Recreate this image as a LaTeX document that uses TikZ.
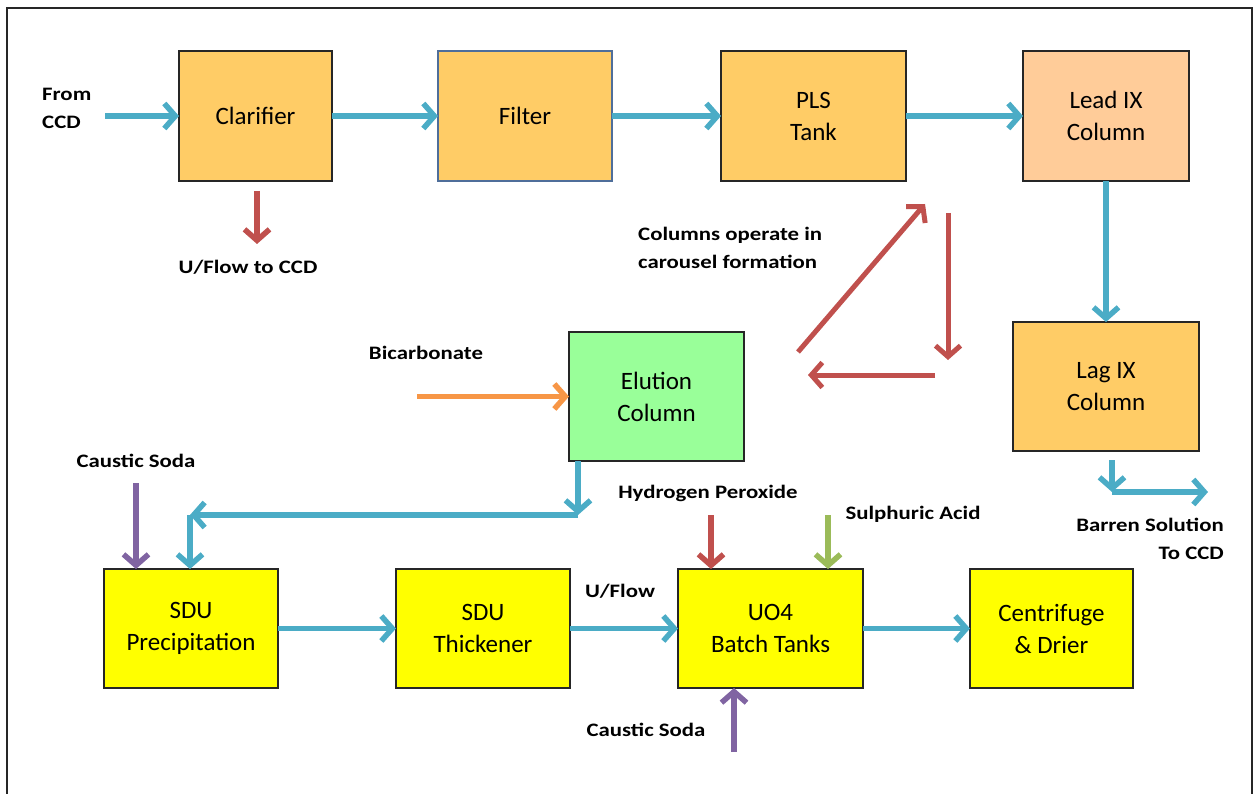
\documentclass[tikz,border=0pt]{standalone}
\usepackage{fontspec}
\setmainfont{Carlito}
\newfontfamily\lblfont[FakeStretch=1.2]{Carlito}
\usepackage{tikz}
\usetikzlibrary{positioning, arrows.meta}
\definecolor{frameGray}{HTML}{262626}
\definecolor{boxLine}{HTML}{262626}
\definecolor{filtLine}{HTML}{4F6E9A}
\definecolor{oreTan}{HTML}{FFCC66}
\definecolor{leadPeach}{HTML}{FFCC99}
\definecolor{eluGreen}{HTML}{99FF99}
\definecolor{sduYellow}{HTML}{FFFF00}
\definecolor{flowBlue}{HTML}{4BACC6}
\definecolor{wasteRed}{HTML}{C0504D}
\definecolor{bicOrange}{HTML}{F79646}
\definecolor{sodaPurple}{HTML}{8064A2}
\definecolor{acidGreen}{HTML}{9BBB59}
\begin{document}
\begin{tikzpicture}[x=1pt,y=-1pt,unit/.style={draw=boxLine, line width=1.5pt, inner sep=0pt, outer sep=0pt, align=center, font=\fontsize{25}{32}\selectfont},lbl/.style={font=\lblfont\bfseries\fontsize{19}{28}\selectfont, inner sep=0pt},pipe/.style={line width=5.5pt, -{Straight Barb[length=11pt,width=25pt]}}]
\useasboundingbox (0,0) rectangle (1255,794);
\draw[line width=2.5pt, color=frameGray] (7,794) -- (7,8) -- (1252,8) -- (1252,794);
\node[unit, fill=oreTan, minimum width=153pt, minimum height=130pt] (clar) at (255.5,116) {Clarifier};
\node[unit, fill=oreTan, draw=filtLine, line width=1.2pt, minimum width=174pt, minimum height=130pt, right=106pt of clar] (filt) {Filter};
\node[unit, fill=oreTan, minimum width=185pt, minimum height=130pt, right=109pt of filt] (pls) {PLS\\Tank};
\node[unit, fill=leadPeach, minimum width=166pt, minimum height=130pt, right=117pt of pls] (lead) {Lead IX\\Column};
\node[unit, fill=oreTan, minimum width=186pt, minimum height=129pt] (lag) at (1106,386.5) {Lag IX\\Column};
\node[unit, fill=eluGreen, minimum width=175pt, minimum height=129pt] (elu) at (656.5,396.5) {Elution\\Column};
\node[unit, fill=sduYellow, minimum width=174pt, minimum height=119pt] (prec) at (191,628.5) {SDU\\Precipitation};
\node[unit, fill=sduYellow, minimum width=174pt, minimum height=119pt, right=118pt of prec] (thick) {SDU\\Thickener};
\node[unit, fill=sduYellow, minimum width=185pt, minimum height=119pt, right=108pt of thick] (uo) {UO4\\Batch Tanks};
\node[unit, fill=sduYellow, minimum width=163pt, minimum height=119pt, right=107pt of uo] (cent) {Centrifuge\\\& Drier};
\node[lbl, align=left, anchor=west] (ccdIn) at (42,108) {From\\CCD};
\node[lbl] (ufCcd) at (248,267) {U/Flow to CCD};
\node[lbl, align=left, anchor=west] (carousel) at (638,248) {Columns operate in\\carousel formation};
\node[lbl] (bicLbl) at (426,353) {Bicarbonate};
\node[lbl] (soda1Lbl) at (136,461) {Caustic Soda};
\node[lbl] (hpLbl) at (708,493) {Hydrogen Peroxide};
\node[lbl] (acidLbl) at (913,514) {Sulphuric Acid};
\node[lbl] (ufLbl) at (620,591) {U/Flow};
\node[lbl] (soda2Lbl) at (646,730) {Caustic Soda};
\node[lbl, align=right, anchor=east] (barLbl) at (1224,539) {Barren Solution\\To CCD};
\coordinate (ccd) at (105,116); \coordinate (uf) at (257,244);
\coordinate (b1) at (1112,492); \coordinate (b2) at (1208,492);
\coordinate (e1) at (578,515); \coordinate (e2) at (190,515);
\coordinate (bic) at (417,396.5); \coordinate (soda1) at (136,483); \coordinate (soda2) at (734,752);
\coordinate (hp) at (711,515); \coordinate (acid) at (828,515);
\coordinate (c1) at (798,352); \coordinate (c2) at (925,204); \coordinate (c3) at (948,213);
\coordinate (c4) at (948,360); \coordinate (c5) at (935,375); \coordinate (c6) at (808,375);
\draw[pipe, color=flowBlue] (ccd) -- (clar);
\draw[pipe, color=flowBlue] (clar) -- (filt);
\draw[pipe, color=flowBlue] (filt) -- (pls);
\draw[pipe, color=flowBlue] (pls) -- (lead);
\draw[pipe, color=flowBlue] (lead) -- (lag);
\draw[pipe, color=flowBlue, shorten <=9pt] (b1 |- lag.south) -- (b1);
\draw[pipe, color=flowBlue] (b1) -- (b2);
\draw[pipe, color=flowBlue] (e1 |- elu.south) -- (e1);
\draw[pipe, color=flowBlue] (e1) -- (e2);
\draw[pipe, color=flowBlue] (e2) -- (e2 |- prec.north);
\draw[pipe, color=flowBlue] (prec) -- (thick);
\draw[pipe, color=flowBlue] (thick) -- (uo);
\draw[pipe, color=flowBlue] (uo) -- (cent);
\draw[pipe, color=wasteRed, shorten <=10pt] (uf |- clar.south) -- (uf);
\draw[pipe, color=wasteRed, line width=5pt] (c1) -- (c2);
\draw[pipe, color=wasteRed, line width=5pt] (c3) -- (c4);
\draw[pipe, color=wasteRed, line width=5pt] (c5) -- (c6);
\draw[pipe, color=bicOrange] (bic) -- (elu);
\draw[pipe, color=sodaPurple] (soda1) -- (soda1 |- prec.north);
\draw[pipe, color=sodaPurple] (soda2) -- (soda2 |- uo.south);
\draw[pipe, color=wasteRed] (hp) -- (hp |- uo.north);
\draw[pipe, color=acidGreen] (acid) -- (acid |- uo.north);
\end{tikzpicture}
\end{document}
